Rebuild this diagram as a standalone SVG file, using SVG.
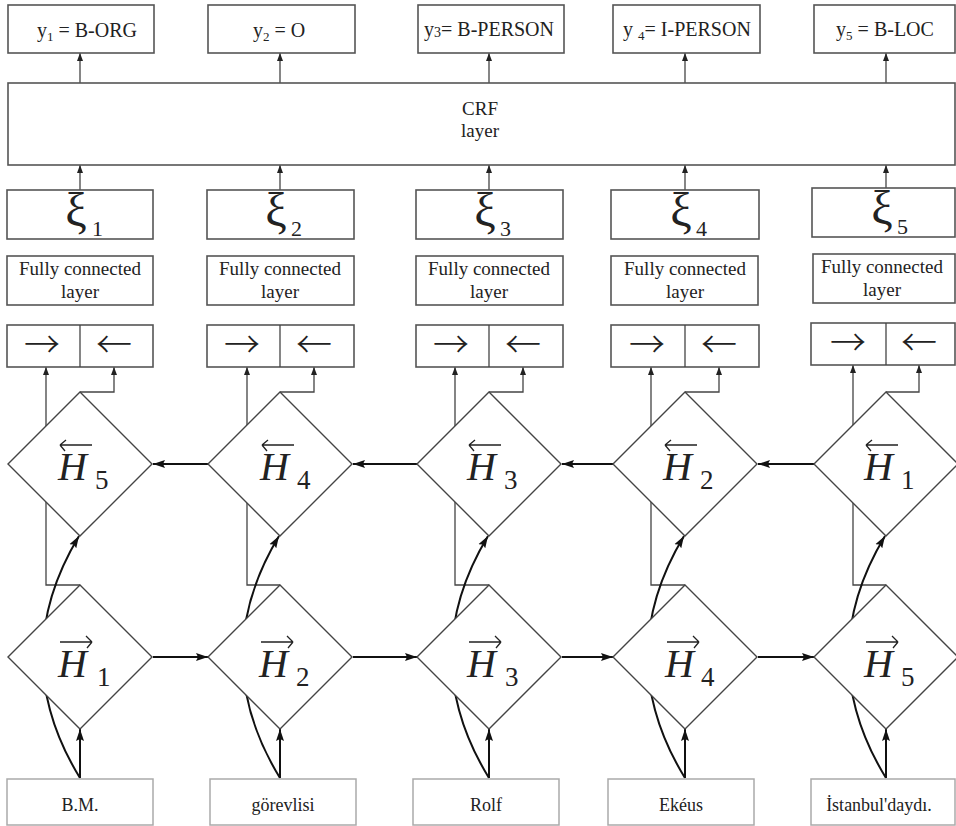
<svg xmlns="http://www.w3.org/2000/svg" width="956" height="826" viewBox="0 0 956 826">
<defs>
  <marker id="sm" markerUnits="userSpaceOnUse" markerWidth="8" markerHeight="8" viewBox="0 0 8 8" refX="8" refY="4" orient="auto">
    <path d="M0,1 L8,4 L0,7 Z" fill="#222"/>
  </marker>
  <marker id="lg" markerUnits="userSpaceOnUse" markerWidth="12" markerHeight="10" viewBox="0 0 12 10" refX="12" refY="5" orient="auto">
    <path d="M0,1 L12,5 L0,9 L2,5 Z" fill="#111"/>
  </marker>
</defs>
<style>
  .box{fill:#fff;stroke:#555;stroke-width:1.6}
  .inbox{fill:#fff;stroke:#aaa;stroke-width:1.5}
  .dia{fill:#fff;stroke:#444;stroke-width:1.4}
  .thin{fill:none;stroke:#444;stroke-width:1.3}
  .thick{fill:none;stroke:#111;stroke-width:2}
  .t{font-family:"Liberation Serif","Times New Roman",serif;fill:#222}
  .lab{font-size:20px}
  .fc{font-size:19px}
  .inp{font-size:18px}
  .xi{font-size:48px}
  .xs{font-size:22px}
  .H{font-size:40px;font-style:italic}
  .hs{font-size:27px}
  .arr{font-family:"Noto Sans CJK SC","Noto Sans CJK JP",sans-serif;font-size:36px;font-weight:300;fill:#222}
  .acc{fill:none;stroke:#222;stroke-width:1.3}
</style>
<rect width="956" height="826" fill="#fff"/>

<!-- connectors -->
<g id="connectors">
  <path class="thin" d="M80,83 V53" marker-end="url(#sm)"/>
  <path class="thin" d="M280,83 V53" marker-end="url(#sm)"/>
  <path class="thin" d="M489,83 V53" marker-end="url(#sm)"/>
  <path class="thin" d="M685,83 V53" marker-end="url(#sm)"/>
  <path class="thin" d="M886,83 V53" marker-end="url(#sm)"/>
  <path class="thin" d="M80,190 V165" marker-end="url(#sm)"/>
  <path class="thin" d="M280,190 V165" marker-end="url(#sm)"/>
  <path class="thin" d="M489,190 V165" marker-end="url(#sm)"/>
  <path class="thin" d="M685,190 V165" marker-end="url(#sm)"/>
  <path class="thin" d="M886,188 V165" marker-end="url(#sm)"/>
  <path class="thin" d="M80,585 H46 V367" marker-end="url(#sm)"/>
  <path class="thin" d="M280,585 H247 V367" marker-end="url(#sm)"/>
  <path class="thin" d="M489,585 H455 V367" marker-end="url(#sm)"/>
  <path class="thin" d="M685,585 H651 V367" marker-end="url(#sm)"/>
  <path class="thin" d="M886,585 H853 V365" marker-end="url(#sm)"/>
  <path class="thin" d="M80,392 H114 V367" marker-end="url(#sm)"/>
  <path class="thin" d="M280,392 H314 V367" marker-end="url(#sm)"/>
  <path class="thin" d="M489,392 H523 V367" marker-end="url(#sm)"/>
  <path class="thin" d="M685,392 H719 V367" marker-end="url(#sm)"/>
  <path class="thin" d="M886,392 H919 V365" marker-end="url(#sm)"/>
  <path class="thick" d="M80,778 Q6,657 79,536" marker-end="url(#lg)"/>
  <path class="thick" d="M280,778 Q206,657 279,536" marker-end="url(#lg)"/>
  <path class="thick" d="M489,778 Q415,657 488,536" marker-end="url(#lg)"/>
  <path class="thick" d="M685,778 Q611,657 684,536" marker-end="url(#lg)"/>
  <path class="thick" d="M886,778 Q812,657 885,536" marker-end="url(#lg)"/>
  <path class="thick" d="M80,778 V729" marker-end="url(#lg)"/>
  <path class="thick" d="M280,778 V729" marker-end="url(#lg)"/>
  <path class="thick" d="M489,778 V729" marker-end="url(#lg)"/>
  <path class="thick" d="M685,778 V729" marker-end="url(#lg)"/>
  <path class="thick" d="M886,778 V729" marker-end="url(#lg)"/>
  <path class="thick" d="M208,464 H153" marker-end="url(#lg)"/>
  <path class="thick" d="M417,464 H353" marker-end="url(#lg)"/>
  <path class="thick" d="M613,464 H562" marker-end="url(#lg)"/>
  <path class="thick" d="M814,464 H758" marker-end="url(#lg)"/>
  <path class="thick" d="M153,657 H208" marker-end="url(#lg)"/>
  <path class="thick" d="M353,657 H417" marker-end="url(#lg)"/>
  <path class="thick" d="M562,657 H613" marker-end="url(#lg)"/>
  <path class="thick" d="M758,657 H814" marker-end="url(#lg)"/>
</g>

<!-- output label boxes -->
<g id="y1"><rect class="box" x="8" y="5" width="146" height="48"/>
  <text class="t lab" x="87" y="37" text-anchor="middle">y<tspan font-size="13" dy="4">1</tspan><tspan dy="-4"> = B-ORG</tspan></text></g>
<g id="y2"><rect class="box" x="208" y="5" width="147" height="48"/>
  <text class="t lab" x="279" y="37" text-anchor="middle">y<tspan font-size="13" dy="4">2</tspan><tspan dy="-4"> = O</tspan></text></g>
<g id="y3"><rect class="box" x="418" y="5" width="146" height="48"/>
  <text class="t lab" x="489" y="36" text-anchor="middle">y<tspan font-size="14" dy="1">3</tspan><tspan dy="-1">= B-PERSON</tspan></text></g>
<g id="y4"><rect class="box" x="613" y="5" width="147" height="48"/>
  <text class="t lab" x="687" y="36" text-anchor="middle">y <tspan font-size="13" dy="4">4</tspan><tspan dy="-4">= I-PERSON</tspan></text></g>
<g id="y5"><rect class="box" x="814" y="5" width="141" height="48"/>
  <text class="t lab" x="885" y="36" text-anchor="middle">y<tspan font-size="13" dy="4">5</tspan><tspan dy="-4"> = B-LOC</tspan></text></g>

<!-- CRF layer -->
<g id="crf"><rect class="box" x="8" y="83" width="947" height="82"/>
  <text class="t fc" x="480" y="115" text-anchor="middle">CRF</text>
  <text class="t fc" x="480" y="137" text-anchor="middle">layer</text></g>

<!-- xi boxes -->
<g id="xi1"><rect class="box" x="7" y="190" width="146" height="49"/>
  <text class="t xi" x="76" y="226" text-anchor="middle">ξ</text><text class="t xs" x="92" y="236">1</text></g>
<g id="xi2"><rect class="box" x="207" y="190" width="147" height="49"/>
  <text class="t xi" x="276" y="226" text-anchor="middle">ξ</text><text class="t xs" x="291" y="236">2</text></g>
<g id="xi3"><rect class="box" x="416" y="190" width="147" height="49"/>
  <text class="t xi" x="485" y="226" text-anchor="middle">ξ</text><text class="t xs" x="500" y="236">3</text></g>
<g id="xi4"><rect class="box" x="611" y="190" width="148" height="49"/>
  <text class="t xi" x="681" y="226" text-anchor="middle">ξ</text><text class="t xs" x="696" y="236">4</text></g>
<g id="xi5"><rect class="box" x="812" y="188" width="143" height="49"/>
  <text class="t xi" x="882" y="224" text-anchor="middle">ξ</text><text class="t xs" x="897" y="234">5</text></g>

<!-- fully connected -->
<g id="fc1"><rect class="box" x="7" y="256" width="146" height="49"/>
  <text class="t fc" x="80" y="275" text-anchor="middle">Fully connected</text><text class="t fc" x="80" y="298" text-anchor="middle">layer</text></g>
<g id="fc2"><rect class="box" x="207" y="256" width="147" height="49"/>
  <text class="t fc" x="280" y="275" text-anchor="middle">Fully connected</text><text class="t fc" x="280" y="298" text-anchor="middle">layer</text></g>
<g id="fc3"><rect class="box" x="416" y="256" width="147" height="49"/>
  <text class="t fc" x="489" y="275" text-anchor="middle">Fully connected</text><text class="t fc" x="489" y="298" text-anchor="middle">layer</text></g>
<g id="fc4"><rect class="box" x="611" y="256" width="147" height="49"/>
  <text class="t fc" x="685" y="275" text-anchor="middle">Fully connected</text><text class="t fc" x="685" y="298" text-anchor="middle">layer</text></g>
<g id="fc5"><rect class="box" x="813" y="254" width="142" height="49"/>
  <text class="t fc" x="882" y="273" text-anchor="middle">Fully connected</text><text class="t fc" x="882" y="296" text-anchor="middle">layer</text></g>

<!-- concat boxes -->
<g id="cat1"><rect class="box" x="7" y="325" width="146" height="42"/><path class="thin" d="M80,325 V367"/>
  <text class="arr" x="42" y="358" text-anchor="middle">→</text><text class="arr" x="114" y="358" text-anchor="middle">←</text></g>
<g id="cat2"><rect class="box" x="207" y="325" width="147" height="42"/><path class="thin" d="M280,325 V367"/>
  <text class="arr" x="242" y="358" text-anchor="middle">→</text><text class="arr" x="314" y="358" text-anchor="middle">←</text></g>
<g id="cat3"><rect class="box" x="416" y="325" width="147" height="42"/><path class="thin" d="M489,325 V367"/>
  <text class="arr" x="451" y="358" text-anchor="middle">→</text><text class="arr" x="523" y="358" text-anchor="middle">←</text></g>
<g id="cat4"><rect class="box" x="611" y="325" width="148" height="42"/><path class="thin" d="M685,325 V367"/>
  <text class="arr" x="647" y="358" text-anchor="middle">→</text><text class="arr" x="719" y="358" text-anchor="middle">←</text></g>
<g id="cat5"><rect class="box" x="811" y="323" width="144" height="42"/><path class="thin" d="M886,323 V365"/>
  <text class="arr" x="848" y="356" text-anchor="middle">→</text><text class="arr" x="919" y="356" text-anchor="middle">←</text></g>

<!-- backward LSTM states -->
<g id="hb5"><path class="dia" d="M80,392 L152,464 L80,536 L8,464 Z"/>
  <path class="acc" d="M60,445 H92 M60,445 L66,440 M60,445 L65,451"/>
  <text class="t H" x="58" y="480">H</text><text class="t hs" x="95" y="489">5</text></g>
<g id="hb4"><path class="dia" d="M280,392 L352,464 L280,536 L208,464 Z"/>
  <path class="acc" d="M262,445 H294 M262,445 L268,440 M262,445 L267,451"/>
  <text class="t H" x="260" y="480">H</text><text class="t hs" x="297" y="489">4</text></g>
<g id="hb3"><path class="dia" d="M489,392 L561,464 L489,536 L417,464 Z"/>
  <path class="acc" d="M469,445 H501 M469,445 L475,440 M469,445 L474,451"/>
  <text class="t H" x="467" y="480">H</text><text class="t hs" x="504" y="489">3</text></g>
<g id="hb2"><path class="dia" d="M685,392 L757,464 L685,536 L613,464 Z"/>
  <path class="acc" d="M665,445 H697 M665,445 L671,440 M665,445 L670,451"/>
  <text class="t H" x="663" y="480">H</text><text class="t hs" x="700" y="489">2</text></g>
<g id="hb1"><path class="dia" d="M886,392 L958,464 L886,536 L814,464 Z"/>
  <path class="acc" d="M866,445 H898 M866,445 L872,440 M866,445 L871,451"/>
  <text class="t H" x="864" y="480">H</text><text class="t hs" x="901" y="489">1</text></g>

<!-- forward LSTM states -->
<g id="hf1"><path class="dia" d="M80,585 L152,657 L80,729 L8,657 Z"/>
  <path class="acc" d="M60,642 H92 M92,642 L86,636 M92,642 L87,648"/>
  <text class="t H" x="58" y="677">H</text><text class="t hs" x="97" y="686">1</text></g>
<g id="hf2"><path class="dia" d="M280,585 L352,657 L280,729 L208,657 Z"/>
  <path class="acc" d="M261,642 H293 M293,642 L287,636 M293,642 L288,648"/>
  <text class="t H" x="259" y="677">H</text><text class="t hs" x="296" y="686">2</text></g>
<g id="hf3"><path class="dia" d="M489,585 L561,657 L489,729 L417,657 Z"/>
  <path class="acc" d="M469,642 H501 M501,642 L495,636 M501,642 L496,648"/>
  <text class="t H" x="467" y="677">H</text><text class="t hs" x="505" y="686">3</text></g>
<g id="hf4"><path class="dia" d="M685,585 L757,657 L685,729 L613,657 Z"/>
  <path class="acc" d="M667,642 H699 M699,642 L693,636 M699,642 L694,648"/>
  <text class="t H" x="665" y="677">H</text><text class="t hs" x="701" y="686">4</text></g>
<g id="hf5"><path class="dia" d="M886,585 L958,657 L886,729 L814,657 Z"/>
  <path class="acc" d="M866,642 H898 M898,642 L892,636 M898,642 L893,648"/>
  <text class="t H" x="864" y="677">H</text><text class="t hs" x="901" y="686">5</text></g>

<!-- input words -->
<g id="w1"><rect class="inbox" x="7" y="779" width="146" height="46"/><text class="t inp" x="80" y="811" text-anchor="middle">B.M.</text></g>
<g id="w2"><rect class="inbox" x="210" y="779" width="146" height="46"/><text class="t inp" x="283" y="811" text-anchor="middle">görevlisi</text></g>
<g id="w3"><rect class="inbox" x="413" y="779" width="146" height="46"/><text class="t inp" x="486" y="811" text-anchor="middle">Rolf</text></g>
<g id="w4"><rect class="inbox" x="608" y="779" width="146" height="46"/><text class="t inp" x="681" y="811" text-anchor="middle">Ekéus</text></g>
<g id="w5"><rect class="inbox" x="811" y="779" width="144" height="46"/><text class="t inp" x="879" y="811" text-anchor="middle">İstanbul'daydı.</text></g>
</svg>
